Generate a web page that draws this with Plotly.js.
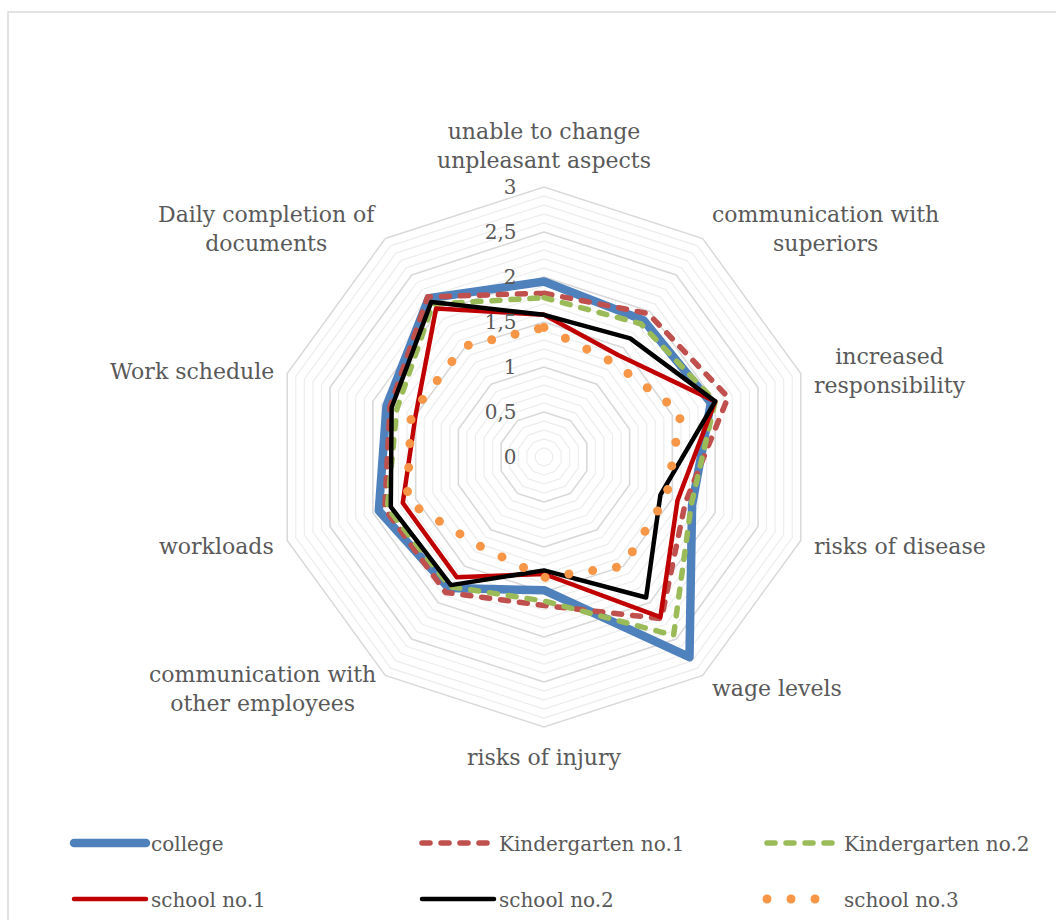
<!DOCTYPE html>
<html>
<head>
<meta charset="utf-8">
<script src="https://cdn.plot.ly/plotly-3.0.1.min.js"></script>
<style>
  html, body { margin: 0; padding: 0; background: #ffffff; }
  #chart { width: 1056px; height: 920px; }
  .js-line { stroke-linecap: round !important; stroke-linejoin: round !important; }
</style>
</head>
<body>
<div id="chart"></div>
<script>
// ---- data ----
const categories = [
  'unable to change unpleasant aspects',
  'communication with superiors',
  'increased responsibility',
  'risks of disease',
  'wage levels',
  'risks of injury',
  'communication with other employees',
  'workloads',
  'Work schedule',
  'Daily completion of documents'
];
const tickLabels = [
  'unable to change<br>unpleasant aspects',
  'communication with<br>superiors',
  'increased<br>responsibility',
  'risks of disease',
  'wage levels',
  'risks of injury',
  'communication with<br>other employees',
  'workloads',
  'Work schedule',
  'Daily completion of<br>documents'
];
const radialTicks = [0, 0.5, 1, 1.5, 2, 2.5, 3];

const college        = [1.95, 1.88, 1.95, 1.73, 2.75, 1.48, 1.80, 1.93, 1.84, 2.18];
const kindergarten1  = [1.82, 1.97, 2.15, 1.65, 2.22, 1.65, 1.86, 1.86, 1.80, 2.20];
const kindergarten2  = [1.77, 1.83, 2.00, 1.72, 2.45, 1.60, 1.78, 1.83, 1.72, 2.10];
const school1        = [1.58, 1.40, 2.00, 1.56, 2.20, 1.30, 1.65, 1.65, 1.50, 2.04];
const school2        = [1.58, 1.63, 2.00, 1.36, 1.93, 1.26, 1.76, 1.79, 1.78, 2.13];
const school3        = [1.44, 1.30, 1.60, 1.43, 1.50, 1.34, 1.22, 1.60, 1.55, 1.52];

// ---- helpers ----
const close = a => a.concat([a[0]]);
const thetaClosed = close(categories);

function series(name, values, color, width, dash, legend) {
  return {
    type: 'scatterpolar',
    mode: 'lines',
    name: name,
    r: close(values),
    theta: thetaClosed,
    subplot: 'polar2',
    legend: legend,
    line: { color: color, width: width, dash: dash },
    hoverinfo: 'name+r+theta'
  };
}

const traces = [
  {
    type: 'scatterpolar', mode: 'lines', r: close(college), theta: thetaClosed,
    subplot: 'polar', showlegend: false, hoverinfo: 'skip',
    line: { color: 'rgba(0,0,0,0)', width: 0 }
  },
  series('college', college, '#4F81BD', 8.5, 'solid', 'legend'),
  series('Kindergarten no.1', kindergarten1, '#C0504D', 5.5, '8px,11px', 'legend2'),
  series('Kindergarten no.2', kindergarten2, '#9BBB59', 5.5, '8px,11px', 'legend3'),
  series('school no.1', school1, '#C00000', 4.5, 'solid', 'legend4'),
  series('school no.2', school2, '#000000', 4.5, 'solid', 'legend5'),
  series('school no.3', school3, '#F79646', 9, '0px,24px', 'legend6')
];

const W = 1056, H = 920;
const cx = 544, cy = 457, R = 270;
const dom = {
  x: [(cx - R) / W, (cx + R) / W],
  y: [(H - (cy + R)) / H, (H - (cy - R)) / H]
};
const labelFont = { family: 'DejaVu Serif', size: 22, color: '#595959' };

const angBase = {
  type: 'category',
  rotation: 90,
  direction: 'clockwise',
  categoryorder: 'array',
  categoryarray: categories
};

const minorTicks = [];
for (let i = 0; i <= 30; i++) minorTicks.push(i / 10);

// category labels placed just outside each polygon vertex
const pad = 12;
const annotations = tickLabels.map((txt, i) => {
  const a = (90 - 360 * i / categories.length) * Math.PI / 180;
  const c = Math.cos(a), s = Math.sin(a);
  const px = cx + (R + pad) * c;
  const py = cy + 2 - (R + pad + 2) * s;
  return {
    text: txt, xref: 'paper', yref: 'paper', showarrow: false,
    x: px / W, y: 1 - py / H,
    xanchor: c > 0.1 ? 'left' : (c < -0.1 ? 'right' : 'center'),
    yanchor: s > 0.95 ? 'bottom' : (s < -0.95 ? 'top' : 'middle'),
    align: 'center', font: labelFont
  };
});

// legend grid: 3 columns x 2 rows, one legend box per entry
const legendCols = [69, 417, 762];
const legendRows = [843, 899];
function legendBox(col, row) {
  return {
    orientation: 'h', x: legendCols[col] / W, xanchor: 'left',
    y: (H - legendRows[row]) / H, yanchor: 'middle',
    itemwidth: 72,
    font: { family: 'DejaVu Serif', size: 20, color: '#595959' },
    bgcolor: 'rgba(0,0,0,0)', itemclick: false, itemdoubleclick: false
  };
}

const layout = {
  width: W, height: H,
  margin: { l: 0, r: 0, t: 0, b: 0, autoexpand: false },
  paper_bgcolor: '#ffffff',
  separators: ', ',
  showlegend: true,
  font: labelFont,
  polar: {
    domain: dom,
    gridshape: 'linear',
    bgcolor: 'rgba(0,0,0,0)',
    radialaxis: {
      range: [0, 3], tickmode: 'array', tickvals: minorTicks,
      showticklabels: false, ticks: '', showline: false,
      gridcolor: '#EDEDED', gridwidth: 1.2
    },
    angularaxis: Object.assign({}, angBase, {
      showgrid: false, showline: false, showticklabels: false, ticks: ''
    })
  },
  polar2: {
    domain: dom,
    gridshape: 'linear',
    bgcolor: 'rgba(0,0,0,0)',
    radialaxis: {
      range: [0, 3], tickmode: 'array', tickvals: radialTicks,
      angle: 90, side: 'counterclockwise', tickangle: 90,
      showline: false, ticks: 'outside', ticklen: 20, tickcolor: 'rgba(0,0,0,0)',
      gridcolor: '#D9D9D9', gridwidth: 1.5,
      tickfont: { family: 'DejaVu Serif', size: 20, color: '#595959' }
    },
    angularaxis: Object.assign({}, angBase, {
      showgrid: false, showline: true, linecolor: '#D9D9D9', linewidth: 1.5,
      showticklabels: false, ticks: ''
    })
  },
  legend: legendBox(0, 0),
  legend2: legendBox(1, 0),
  legend3: legendBox(2, 0),
  legend4: legendBox(0, 1),
  legend5: legendBox(1, 1),
  legend6: legendBox(2, 1),
  annotations: annotations,
  shapes: [{
    type: 'rect', xref: 'paper', yref: 'paper',
    x0: 8 / W, x1: 1.05, y0: -0.05, y1: (H - 12) / H,
    line: { color: '#D9D9D9', width: 1.5 }, fillcolor: 'rgba(0,0,0,0)'
  }]
};

Plotly.newPlot('chart', traces, layout, { staticPlot: true, displayModeBar: false });
</script>
</body>
</html>
